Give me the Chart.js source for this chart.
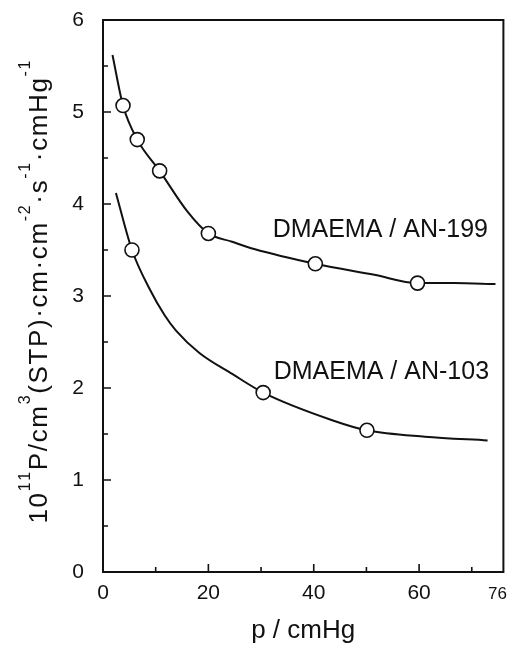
<!DOCTYPE html>
<html><head><meta charset="utf-8">
<script src="https://cdn.jsdelivr.net/npm/chart.js@4.4.0/dist/chart.umd.min.js"></script>
<style>html,body{margin:0;padding:0;background:#fff}canvas{display:block}</style>
</head><body>
<canvas id="c" width="512" height="648"></canvas>
<script>
const FONT = "'Liberation Sans', Arial, Helvetica, sans-serif";

// Tick positions and labels
const xTicks = [0, 10, 20, 30, 40, 50, 60, 70, 76];
const xTickLabels = ['0', '', '20', '', '40', '', '60', '', ''];
const yTicks = [0, 0.5, 1, 1.5, 2, 2.5, 3, 3.5, 4, 4.5, 5, 5.5, 6];
const yTickLabels = ['0', '', '1', '', '2', '', '3', '', '4', '', '5', '', '6'];

// Measured points
const an199X = [3.8, 6.5, 10.75, 20.0, 40.3, 59.7];
const an199Y = [5.07, 4.70, 4.36, 3.68, 3.35, 3.14];
const an103X = [5.5, 30.4, 50.1];
const an103Y = [3.50, 1.95, 1.54];

// Fitted curves
const fit199X = [1.8, 3.8, 6.5, 10.75, 16.0, 20.0, 24.5, 28.7, 40.3, 51.5, 59.7, 66.6, 74.5];
const fit199Y = [5.62, 5.07, 4.70, 4.36, 3.92, 3.68, 3.59, 3.51, 3.35, 3.23, 3.14, 3.14, 3.13];
const fit103X = [2.45, 5.5, 8.9, 11.7, 13.9, 18.3, 24.6, 30.4, 43.5, 50.1, 61.1, 73.0];
const fit103Y = [4.12, 3.50, 3.07, 2.79, 2.62, 2.38, 2.15, 1.95, 1.65, 1.54, 1.47, 1.43];

const seriesLabels = ['DMAEMA / AN-199', 'DMAEMA / AN-103'];
const xTitle = 'p / cmHg';
const yTitleParts = [['10', 0], ['11', 1], ['P/cm', 0], ['3', 1], ['(STP)\u00b7cm\u00b7cm', 0], ['-2', 1], ['\u00b7s', 0], ['-1', 1], ['\u00b7cmHg', 0], ['-1', 1]];

const toXY = (xs, ys) => xs.map((x, i) => ({x: x, y: ys[i]}));
const INK = '#111';

const framePlugin = {
  id: 'frame',
  afterDatasetsDraw(chart) {
    const {ctx, chartArea: a, scales: {x, y}} = chart;
    ctx.save();
    ctx.strokeStyle = INK;
    ctx.lineWidth = 2;
    ctx.strokeRect(a.left, a.top, a.right - a.left, a.bottom - a.top);
    ctx.lineWidth = 1.6;
    ctx.beginPath();
    x.ticks.forEach(t => {
      if (t.value <= 0 || t.value >= 76) return;
      const px = x.getPixelForValue(t.value);
      const len = t.value % 20 === 0 ? 8 : 5;
      ctx.moveTo(px, a.bottom); ctx.lineTo(px, a.bottom - len);
    });
    y.ticks.forEach(t => {
      if (t.value <= 0 || t.value >= 6) return;
      const py = y.getPixelForValue(t.value);
      const len = Number.isInteger(t.value) ? 8 : 5;
      ctx.moveTo(a.left, py); ctx.lineTo(a.left + len, py);
    });
    ctx.stroke();

    // "76" end label
    ctx.fillStyle = INK;
    ctx.font = '17px ' + FONT;
    ctx.textAlign = 'center';
    ctx.textBaseline = 'middle';
    ctx.fillText('76', x.getPixelForValue(76) - 6, a.bottom + 22);

    // series labels
    ctx.font = '25px ' + FONT;
    ctx.textAlign = 'left';
    ctx.textBaseline = 'alphabetic';
    ctx.fillText(seriesLabels[0], x.getPixelForValue(32.2), y.getPixelForValue(3.64));
    ctx.fillText(seriesLabels[1], x.getPixelForValue(32.4), y.getPixelForValue(2.10));

    // y title with superscripts
    const target = 463;
    const baseFont = '26px ' + FONT, supFont = '16px ' + FONT;
    let natural = 0, n = 0;
    yTitleParts.forEach(([s, sup]) => {
      ctx.font = sup ? supFont : baseFont;
      for (const ch of s) { natural += ctx.measureText(ch).width; n++; }
    });
    const ls = (target - natural) / (n - 1);
    ctx.translate(47, (a.top + a.bottom) / 2 - 4);
    ctx.rotate(-Math.PI / 2);
    let cx = -target / 2;
    yTitleParts.forEach(([s, sup]) => {
      ctx.font = sup ? supFont : baseFont;
      for (const ch of s) {
        ctx.fillText(ch, cx, sup ? -17 : 0);
        cx += ctx.measureText(ch).width + ls;
      }
    });
    ctx.restore();
  }
};

new Chart(document.getElementById('c'), {
  type: 'scatter',
  data: {
    datasets: [
      {label: seriesLabels[0] + ' data', data: toXY(an199X, an199Y), showLine: false, pointRadius: 7, pointHoverRadius: 7,
       pointBackgroundColor: '#fff', pointBorderColor: INK, pointBorderWidth: 1.6, order: 0},
      {label: seriesLabels[1] + ' data', data: toXY(an103X, an103Y), showLine: false, pointRadius: 7, pointHoverRadius: 7,
       pointBackgroundColor: '#fff', pointBorderColor: INK, pointBorderWidth: 1.6, order: 0},
      {label: seriesLabels[0] + ' fit', data: toXY(fit199X, fit199Y), showLine: true, pointRadius: 0, borderColor: INK,
       borderWidth: 2, cubicInterpolationMode: 'monotone', fill: false, order: 1},
      {label: seriesLabels[1] + ' fit', data: toXY(fit103X, fit103Y), showLine: true, pointRadius: 0, borderColor: INK,
       borderWidth: 2, cubicInterpolationMode: 'monotone', fill: false, order: 1}
    ]
  },
  options: {
    responsive: false,
    animation: false,
    devicePixelRatio: 1,
    layout: {padding: {top: 20, right: -3, bottom: 0, left: 0}},
    plugins: {legend: {display: false}, tooltip: {enabled: false}},
    scales: {
      x: {
        type: 'linear', min: 0, max: 76,
        afterBuildTicks: s => { s.ticks = xTicks.map(v => ({value: v})); },
        afterFit: s => { s.height = 76; s.paddingLeft = 0; s.paddingRight = 0; },
        grid: {display: false, drawTicks: false},
        border: {display: false},
        ticks: {callback: (v, i) => xTickLabels[i], autoSkip: false, maxRotation: 0, padding: 9,
                color: INK, font: {family: FONT, size: 21}},
        title: {display: true, text: xTitle, color: INK, font: {family: FONT, size: 26}, padding: {top: 0, bottom: 2}}
      },
      y: {
        type: 'linear', min: 0, max: 6,
        afterBuildTicks: s => { s.ticks = yTicks.map(v => ({value: v})); },
        afterFit: s => { s.width = 103; s.paddingTop = 0; s.paddingBottom = 0; },
        grid: {display: false, drawTicks: false},
        border: {display: false},
        ticks: {callback: (v, i) => yTickLabels[i], autoSkip: false, padding: 19,
                color: INK, font: {family: FONT, size: 21}}
      }
    }
  },
  plugins: [framePlugin]
});
</script>
</body></html>
